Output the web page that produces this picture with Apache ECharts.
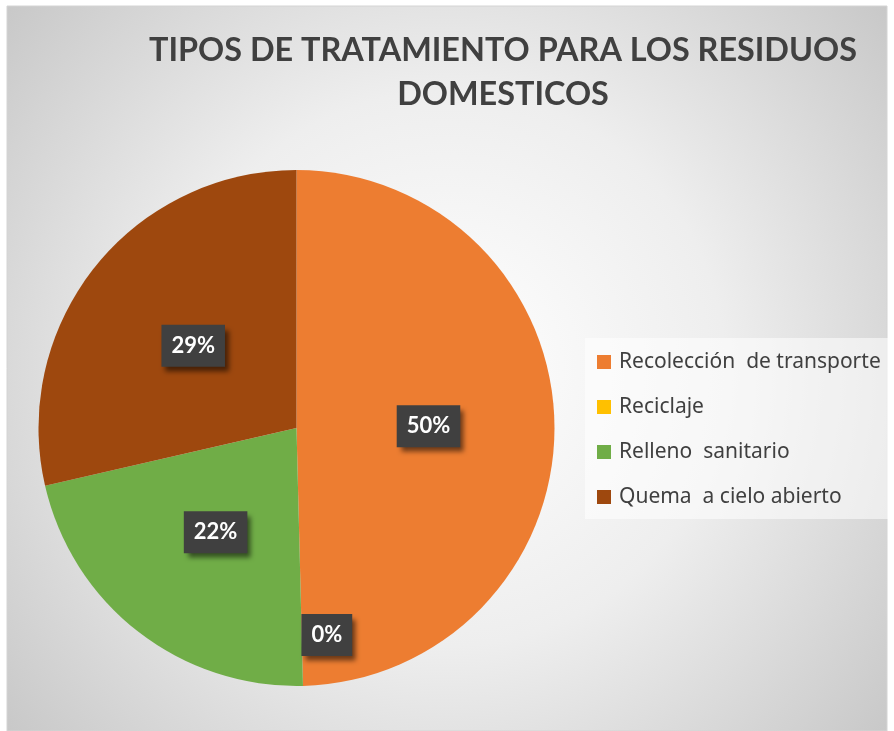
<!DOCTYPE html>
<html><head><meta charset="utf-8">
<script src="https://cdn.jsdelivr.net/npm/echarts@6/dist/echarts.min.js"></script>
<style>html,body{margin:0;padding:0;background:#fff}#c{width:894px;height:731px}</style>
</head><body><div id="c"></div>
<script>
const categories = ['Recolección  de transporte', 'Reciclaje', 'Relleno  sanitario', 'Quema  a cielo abierto'];
const values = [49.6, 0, 21.8, 28.6];
const colors = ['#ED7D31', '#FFC000', '#70AD47', '#9E480E'];
const titleText = 'TIPOS DE TRATAMIENTO PARA LOS RESIDUOS\nDOMESTICOS';

const chart = echarts.init(document.getElementById('c'), null, {renderer: 'canvas'});
const option = {
  animation: false,
  backgroundColor: '#ffffff',
  graphic: [{
    type: 'rect', z: -10, silent: true,
    shape: {x: 7, y: 6, width: 880, height: 725},
    style: {
      fill: {type: 'radial', x: 0.5, y: 0.5, r: 0.85, colorStops: [
        {offset: 0, color: '#ffffff'}, {offset: 0.45, color: '#eeeeee'}, {offset: 1, color: '#c2c2c2'}]},
      stroke: '#d4d4d4', lineWidth: 1
    }
  }],
  title: {
    text: titleText,
    left: 503,
    top: 29,
    padding: 0,
    textAlign: 'center',
    textStyle: {fontFamily: 'Lato', fontWeight: 'bold', fontSize: 32.4, lineHeight: 44, color: '#404040'}
  },
  legend: {
    orient: 'vertical',
    left: 585, top: 338,
    icon: 'rect', itemWidth: 14, itemHeight: 14, itemGap: 23,
    padding: [13, 8, 11, 12],
    backgroundColor: 'rgba(255,255,255,0.55)',
    textStyle: {fontFamily: 'Noto Sans', fontSize: 21, lineHeight: 22, color: '#404040', padding: [0, 0, 0, 3]},
    data: categories
  },
  series: [{
    type: 'pie',
    center: [296.5, 428],
    radius: 258,
    startAngle: 90,
    clockwise: true,
    avoidLabelOverlap: false,
    color: colors,
    itemStyle: {borderWidth: 0},
    emphasis: {disabled: true},
    labelLine: {show: false},
    label: {
      show: true,
      position: 'inside',
      formatter: p => Math.round(p.percent) + '%',
      color: '#ffffff',
      fontFamily: 'Lato', fontWeight: 'bold', fontSize: 22, lineHeight: 22,
      backgroundColor: '#404040',
      padding: [10, 10, 10, 10],
      shadowColor: 'rgba(0,0,0,0.55)', shadowBlur: 5, shadowOffsetX: 4, shadowOffsetY: 5
    },
    labelLayout: function (params) {
      if (params.dataIndex === 1) return {dx: 27, dy: 75};
      return {};
    },
    data: categories.map((n, i) => ({name: n, value: values[i]}))
  }]
};
chart.setOption(option);
</script></body></html>
